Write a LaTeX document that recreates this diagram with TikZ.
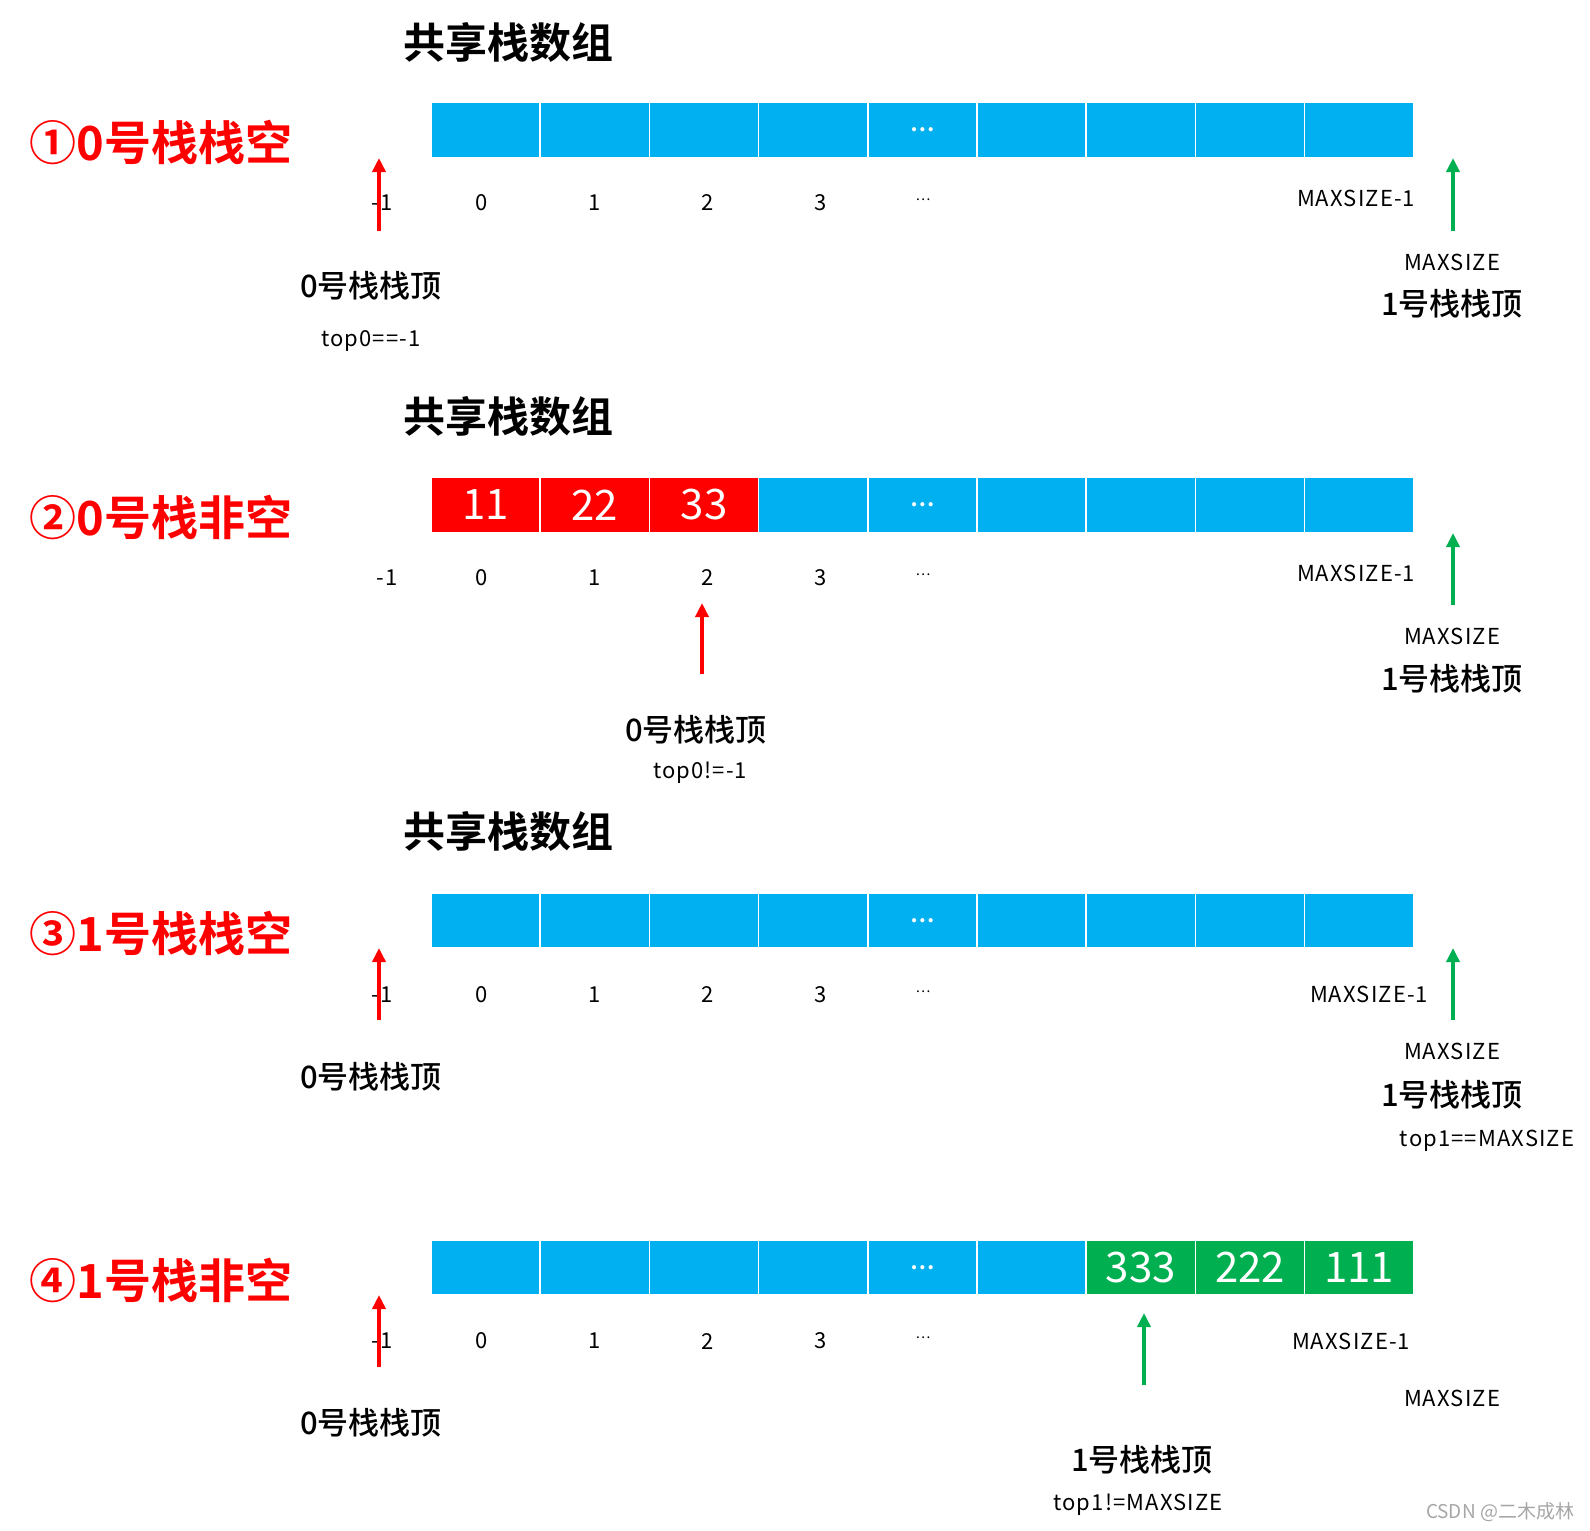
\documentclass[tikz,border=0pt]{standalone}
\usepackage{fontspec}
\setmainfont{Noto Sans CJK SC}[BoldFont={Noto Sans CJK SC Medium}]
\newfontfamily\labfont{Noto Sans CJK SC}[LetterSpace=5]
\newfontfamily\headfont{Noto Sans CJK SC Bold}
\usetikzlibrary{arrows.meta}
\definecolor{cellblue}{HTML}{00B0F0}
\definecolor{cellred}{HTML}{FF0000}
\definecolor{cellgreen}{HTML}{00B050}
\definecolor{markgray}{HTML}{A6A6A6}

\begin{document}
\begin{tikzpicture}[x=1pt,y=-1pt,
    cell/.style={draw=white, line width=1.5pt, minimum width=109.2pt, minimum height=55pt, inner sep=0pt},
    idx/.style={font=\labfont\fontsize{22}{25}\selectfont},
    arrtitle/.style={font=\headfont\fontsize{42}{48}\selectfont},
    statelab/.style={text=cellred, font=\headfont\fontsize{47}{54}\selectfont},
    toplab/.style={font=\fontsize{31}{36}\selectfont\bfseries},
    val/.style={text=white, font=\fontsize{42}{48}\selectfont},
    celldots/.style={text=white, font=\headfont\fontsize{22}{26}\selectfont},
    idxdots/.style={font=\fontsize{14}{16}\selectfont},
    ptrred/.style={-{Triangle[width=13pt,length=14pt]}, line width=3.5pt, cellred},
    ptrgreen/.style={-{Triangle[width=13pt,length=14pt]}, line width=3.5pt, cellgreen}]
      \useasboundingbox (0,0) rectangle (1590,1531);

      % panel 1
      \node[arrtitle](tA) at (508, 42){共享栈数组};
      \node[statelab](sA) at (161,142){①0号栈栈空};
      \foreach \i in {0,...,8} {
        \node[cell, fill=cellblue](pA\i) at (485.6+109.2*\i, 130){};
      }
      \node[celldots](dA) at (pA4){…};
      \node[idx](iAm) at (382,203){-1};
      \foreach \i\x in {0/482,1/595,2/708,3/821} {
        \node[idx](iA\i) at (\x,203){\i};
      }
      \node[idxdots](eA) at (923,200){…};
      \node[idx](mA) at (1356,198){MAXSIZE-1};
      \coordinate (rA0) at (379,231);
      \coordinate (rA1) at (379,158);
      \draw[ptrred] (rA0) -- (rA1);
      \coordinate (gA0) at (1453,231);
      \coordinate (gA1) at (1453,158);
      \draw[ptrgreen] (gA0) -- (gA1);
      \node[idx](nA) at (1452,262){MAXSIZE};
      \node[toplab](kA) at (1452,304){1号栈栈顶};
      \node[toplab](zA) at (371,286){0号栈栈顶};
      \node[idx](cA) at (371,341){top0==-1};

      % panel 2
      \node[arrtitle](tB) at (508,416){共享栈数组};
      \node[statelab](sB) at (161,517){②0号栈非空};
      \foreach \i in {0,...,8} {
        \node[cell, fill=cellblue](pB\i) at (485.6+109.2*\i, 505){};
      }
      \foreach \i\v in {0/11,1/22,2/33} {
        \node[cell, fill=cellred, val](pB\i) at (485.6+109.2*\i, 505){\v};
      }
      \node[celldots](dB) at (pB4){…};
      \node[idx](iBm) at (387,578){-1};
      \foreach \i\x in {0/482,1/595,2/708,3/821} {
        \node[idx](iB\i) at (\x,578){\i};
      }
      \node[idxdots](eB) at (923,575){…};
      \node[idx](mB) at (1356,573){MAXSIZE-1};
      \coordinate (gB0) at (1453,605);
      \coordinate (gB1) at (1453,533);
      \draw[ptrgreen] (gB0) -- (gB1);
      \node[idx](nB) at (1452,636){MAXSIZE};
      \node[toplab](kB) at (1452,679){1号栈栈顶};
      \coordinate (rB0) at (702,674);
      \coordinate (rB1) at (702,603);
      \draw[ptrred] (rB0) -- (rB1);
      \node[toplab](zB) at (696,730){0号栈栈顶};
      \node[idx](cB) at (700,773){top0!=-1};

      % panel 3
      \node[arrtitle](tC) at (508,831){共享栈数组};
      \node[statelab](sC) at (161,933){③1号栈栈空};
      \foreach \i in {0,...,8} {
        \node[cell, fill=cellblue](pC\i) at (485.6+109.2*\i, 920.5){};
      }
      \node[celldots](dC) at (pC4){…};
      \node[idx](iCm) at (382,995){-1};
      \foreach \i\x in {0/482,1/595,2/708,3/821} {
        \node[idx](iC\i) at (\x,995){\i};
      }
      \node[idxdots](eC) at (923,992){…};
      \node[idx](mC) at (1369,994){MAXSIZE-1};
      \coordinate (rC0) at (379,1020);
      \coordinate (rC1) at (379,948);
      \draw[ptrred] (rC0) -- (rC1);
      \coordinate (gC0) at (1453,1020);
      \coordinate (gC1) at (1453,948);
      \draw[ptrgreen] (gC0) -- (gC1);
      \node[toplab](zC) at (371,1077){0号栈栈顶};
      \node[idx](nC) at (1452,1051){MAXSIZE};
      \node[toplab](kC) at (1452,1095){1号栈栈顶};
      \node[idx](cC) at (1487,1141){top1==MAXSIZE};

      % panel 4
      \node[statelab](sD) at (161,1280){④1号栈非空};
      \foreach \i in {0,...,8} {
        \node[cell, fill=cellblue](pD\i) at (485.6+109.2*\i, 1267.5){};
      }
      \foreach \i\v in {6/333,7/222,8/111} {
        \node[cell, fill=cellgreen, val](pD\i) at (485.6+109.2*\i, 1267.5){\v};
      }
      \node[celldots](dD) at (pD4){…};
      \node[idx](iDm) at (382,1341){-1};
      \foreach \i\x in {0/482,1/595,2/708,3/821} {
        \node[idx](iD\i) at (\x,1341){\i};
      }
      \node[idxdots](eD) at (923,1338){…};
      \node[idx](mD) at (1351,1341){MAXSIZE-1};
      \coordinate (rD0) at (379,1367);
      \coordinate (rD1) at (379,1295);
      \draw[ptrred] (rD0) -- (rD1);
      \coordinate (gD0) at (1144,1385);
      \coordinate (gD1) at (1144,1313);
      \draw[ptrgreen] (gD0) -- (gD1);
      \node[idx](nD) at (1452,1398){MAXSIZE};
      \node[toplab](zD) at (371,1423){0号栈栈顶};
      \node[toplab](kD) at (1142,1460){1号栈栈顶};
      \node[idx](cD) at (1138,1505){top1!=MAXSIZE};
      \node[text=markgray, font=\fontsize{19}{22}\selectfont](wm) at (1500,1512){CSDN @二木成林};
\end{tikzpicture}
\end{document}
